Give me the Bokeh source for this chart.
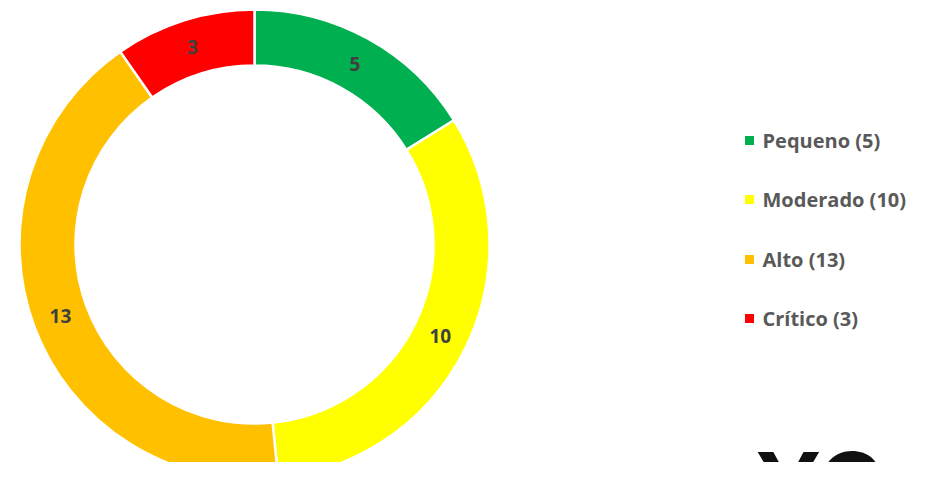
import numpy as np
from bokeh.plotting import figure
from bokeh.models import ColumnDataSource, Range1d
from bokeh.core.properties import value
from bokeh.embed import file_html
from bokeh.resources import INLINE

categories = ["Pequeno", "Moderado", "Alto", "Crítico"]
counts = [5, 10, 13, 3]
colors = ["#00B050", "#FFFF00", "#FFC000", "#FF0000"]

W, H = 914, 462
p = figure(width=W, height=H, output_backend="svg", toolbar_location=None,
           x_range=Range1d(0, W), y_range=Range1d(0, H), min_border=0,
           outline_line_color=None, background_fill_color="white",
           border_fill_color="white")
p.axis.visible = False
p.grid.visible = False

def Y(img_y):
    return H - img_y

cx, cy = 254, Y(244)
r_in, r_out = 179, 235

vals = np.array(counts, dtype=float)
frac = vals / vals.sum() * 2 * np.pi
cum = np.concatenate([[0], np.cumsum(frac)])
start = np.pi / 2 - cum[:-1]
end = np.pi / 2 - cum[1:]
mid = (start + end) / 2
r_lab = (r_in + r_out) / 2

src = ColumnDataSource(dict(
    cat=categories, val=counts, color=colors,
    start=start, end=end,
    lx=cx + r_lab * np.cos(mid), ly=cy + r_lab * np.sin(mid),
    lab=[str(v) for v in counts],
))

p.annular_wedge(x=cx, y=cy, inner_radius=r_in, outer_radius=r_out,
                start_angle="end", end_angle="start", fill_color="color",
                line_color="white", line_width=2.5, source=src)

p.text(x="lx", y="ly", text="lab", source=src, text_align="center",
       text_baseline="middle", text_color="#404040",
       text_font=value("Open Sans"), text_font_style="bold",
       text_font_size="19px")

# legend
leg_y = [Y(140), Y(199), Y(259), Y(318)]
leg_src = ColumnDataSource(dict(
    y=leg_y, color=colors,
    label=[f"{c} ({v})" for c, v in zip(categories, counts)],
))
p.rect(x=749, y="y", width=9, height=9, fill_color="color", line_color=None,
       source=leg_src)
p.text(x=762, y="y", text="label", source=leg_src, text_align="left",
       text_baseline="middle", text_color="#595959",
       text_font=value("Open Sans"), text_font_style="bold",
       text_font_size="20px")

# partial logo at bottom right (cut by the lower edge, as in the reference)
p.text(x=[755], y=[Y(429)], text=["YCo"], text_align="left",
       text_baseline="top", text_color="#111111",
       text_font=value("Inter"), text_font_style="bold",
       text_font_size="90px")

open("out.html", "w").write(file_html(p, INLINE))
